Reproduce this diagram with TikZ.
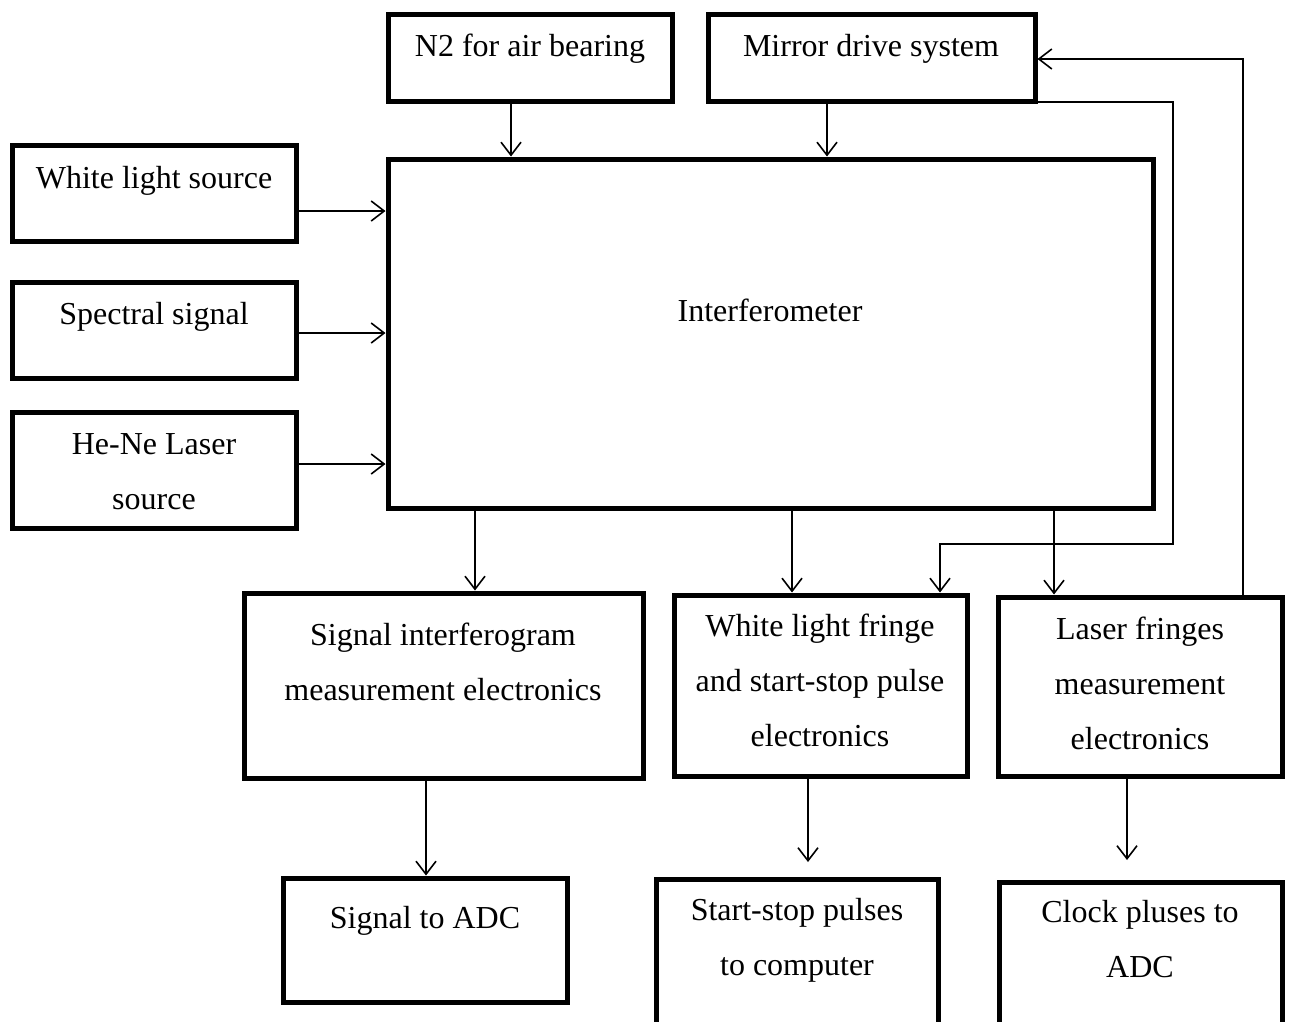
\documentclass[tikz,border=0pt]{standalone}
\usepackage{fontspec}
\setmainfont{Liberation Serif}
\usetikzlibrary{positioning, calc, arrows.meta}

\begin{document}
\begin{tikzpicture}[x=1pt, y=-1pt,
        blk/.style={draw, line width=5pt, inner sep=0pt},
        txt/.style={font=\fontsize{32}{55}\selectfont, align=center, inner sep=0pt},
        arr/.style={line width=1.6pt, -{Straight Barb[length=13pt, width=20pt, line width=1.6pt]}}]
        \clip (0,0) rectangle (1292,1021);

        % Top boxes
        \node[blk, minimum width=284, minimum height=87] (n2) at (530,57.5) {};
        \node[blk, minimum width=327, minimum height=87] (mirror) at (871.5,57.5) {};
        \node[txt] (n2t) at (530,49) {N2 for air bearing};
        \node[txt] (mirrort) at (871,49) {Mirror drive system};

        % Source boxes
        \node[blk, minimum width=284, minimum height=96] (wls) at (154,193) {};
        \node[blk, minimum width=284, minimum height=96] (spec) at (154,330) {};
        \node[blk, minimum width=284, minimum height=116] (hene) at (154,470) {};
        \node[txt] (wlst) at (154,181) {White light source};
        \node[txt] (spect) at (154,317) {Spectral signal};
        \node[txt] (henet) at (154,472) {He-Ne Laser\\source};

        % Interferometer
        \node[blk, minimum width=765, minimum height=349] (interf) at (770.5,333.5) {};
        \node[txt] (interft) at (770,310) {Interferometer};

        % Electronics
        \node[blk, minimum width=399, minimum height=185] (sig) at (443.5,685.5) {};
        \node[blk, minimum width=293, minimum height=181] (wlf) at (820.5,685.5) {};
        \node[blk, minimum width=284, minimum height=179] (lfr) at (1140,686.5) {};
        \node[txt] (sigt) at (443,662) {Signal interferogram\\measurement electronics};
        \node[txt] (wlft) at (820,680) {White light fringe\\and start-stop pulse\\electronics};
        \node[txt] (lfrt) at (1140,683) {Laser fringes\\measurement\\electronics};

        % Outputs
        \node[blk, minimum width=284, minimum height=124] (sadc) at (425,940) {};
        \node[blk, minimum width=282, minimum height=162] (ssp) at (797,960) {};
        \node[blk, minimum width=283, minimum height=158] (clk) at (1140.5,961) {};
        \node[txt] (sadct) at (425,921) {Signal to ADC};
        \node[txt] (sspt) at (797,940) {Start-stop pulses\\to computer};
        \node[txt] (clkt) at (1140,939) {Clock pluses to\\ADC};

        \coordinate (loop) at (1173,544);
        \coordinate (sspin) at (808,862);
        \coordinate (clkin) at (1127,860);

        % Arrows into the interferometer
        \draw[arr] ([xshift=-19pt]n2.south) -- ([xshift=-19pt]n2.south |- interf.north);
        \draw[arr] ([xshift=-44.5pt]mirror.south) -- ([xshift=-44.5pt]mirror.south |- interf.north);
        \foreach \src/\dy in {wls/-18, spec/-3, hene/6} {
            \draw[arr] ([yshift=\dy pt]\src.east) -- ([yshift=\dy pt]\src.east -| interf.west);
        }

        % Arrows out of the interferometer
        \draw[arr] ([xshift=31.5pt]sig.north |- interf.south) -- ([xshift=31.5pt]sig.north);
        \draw[arr] ([xshift=-28.5pt]wlf.north |- interf.south) -- ([xshift=-28.5pt]wlf.north);
        \draw[arr] ([xshift=-86pt]lfr.north |- interf.south) -- ([xshift=-86pt]lfr.north);

        % Feedback lines
        \draw[arr] ([yshift=1.5pt]mirror.south east) -| (loop) -| ([xshift=119.5pt]wlf.north);
        \draw[arr] ([xshift=103pt]lfr.north) |- ([yshift=-1.5pt]mirror.east);

        % Arrows to the outputs
        \draw[arr] ([xshift=1pt]sadc.north |- sig.south) -- ([xshift=1pt]sadc.north);
        \draw[arr] (sspin |- wlf.south) -- (sspin);
        \draw[arr] (clkin |- lfr.south) -- (clkin);
    \end{tikzpicture}
\end{document}
